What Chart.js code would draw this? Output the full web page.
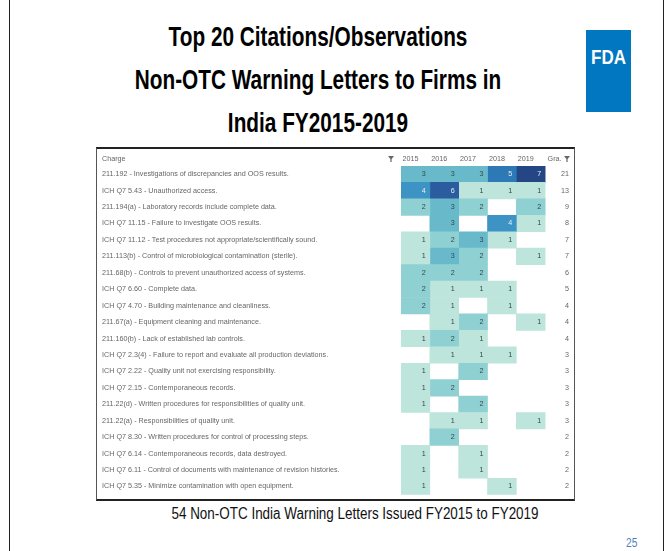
<!DOCTYPE html>
<html>
<head>
<meta charset="utf-8">
<title>Top 20 Citations/Observations</title>
<script src="https://cdn.jsdelivr.net/npm/chart.js@4.4.1/dist/chart.umd.min.js"></script>
<style>
  body {
    margin: 0;
    width: 672px;
    height: 551px;
    background: #fff;
    overflow: hidden;
    position: relative;
    font-family: "Liberation Sans", Arial, sans-serif;
  }
  #frame {
    position: absolute;
    left: 9px;
    top: -3px;
    width: 653px;
    height: 600px;
    border: 1px solid #222;
  }
  /* narrow bold face for the slide heading */
  .title {
    position: absolute;
    left: 0;
    width: 636px;
    text-align: center;
    font-weight: bold;
    font-size: 27px;
    line-height: 30px;
    color: #000;
    transform: scaleX(0.77);
  }
  #logo {
    position: absolute;
    left: 586px;
    top: 30px;
    width: 45px;
    height: 82px;
    background: #0077c0;
    color: #fff;
    font-weight: bold;
    font-size: 20px;
    text-align: center;
    line-height: 22px;
  }
  #logo span { position: absolute; left: 0; right: 0; top: 16px; transform: scaleX(0.85); }
  #table {
    position: absolute;
    left: 96px;
    top: 147px;
    width: 477px;
    height: 350px;
    border: 1px solid #555;
    border-top: 2px solid #222;
    border-bottom: 2px solid #222;
  }
  #table canvas { display: block; filter: blur(0.7px); }
  #caption {
    position: absolute;
    left: 0;
    width: 710px;
    top: 504px;
    text-align: center;
    font-size: 16px;
    line-height: 20px;
    color: #111;
    transform: scaleX(0.84);
  }
  #page {
    position: absolute;
    left: 625px;
    top: 536px;
    font-size: 12px;
    color: #4f81bd;
    transform: scaleX(0.85);
  }
</style>
</head>
<body>
<div id="frame"></div>
<div class="title" style="top:22px">Top 20 Citations/Observations</div>
<div class="title" style="top:65px">Non-OTC Warning Letters to Firms in</div>
<div class="title" style="top:108px">India FY2015-2019</div>
<div id="logo"><span>FDA</span></div>
<div id="table"><canvas id="heat" width="477" height="350"></canvas></div>
<div id="caption">54 Non-OTC India Warning Letters Issued FY2015 to FY2019</div>
<div id="page">25</div>

<script>
const charges = [
  "211.192 - Investigations of discrepancies and OOS results.",
  "ICH Q7 5.43 - Unauthorized access.",
  "211.194(a) - Laboratory records include complete data.",
  "ICH Q7 11.15 - Failure to investigate OOS results.",
  "ICH Q7 11.12 - Test procedures not appropriate/scientifically sound.",
  "211.113(b) - Control of microbiological contamination (sterile).",
  "211.68(b) - Controls to prevent unauthorized access of systems.",
  "ICH Q7 6.60 - Complete data.",
  "ICH Q7 4.70 - Building maintenance and cleanliness.",
  "211.67(a) - Equipment cleaning and maintenance.",
  "211.160(b) - Lack of established lab controls.",
  "ICH Q7 2.3(4) - Failure to report and evaluate all production deviations.",
  "ICH Q7 2.22 - Quality unit not exercising responsibility.",
  "ICH Q7 2.15 - Contemporaneous records.",
  "211.22(d) - Written procedures for responsibilities of quality unit.",
  "211.22(a) - Responsibilities of quality unit.",
  "ICH Q7 8.30 - Written procedures for control of processing steps.",
  "ICH Q7 6.14 - Contemporaneous records, data destroyed.",
  "ICH Q7 6.11 - Control of documents with maintenance of revision histories.",
  "ICH Q7 5.35 - Minimize contamination with open equipment."
];

const years = ["2015", "2016", "2017", "2018", "2019"];
const fy2015 = [3, 4, 2, 0, 1, 1, 2, 2, 2, 0, 1, 0, 1, 1, 1, 0, 0, 1, 1, 1];
const fy2016 = [3, 6, 3, 3, 2, 3, 2, 1, 1, 1, 2, 1, 0, 2, 0, 1, 2, 0, 0, 0];
const fy2017 = [3, 1, 2, 0, 3, 2, 2, 1, 0, 2, 1, 1, 2, 0, 2, 1, 0, 1, 1, 0];
const fy2018 = [5, 1, 0, 4, 1, 0, 0, 1, 1, 0, 0, 1, 0, 0, 0, 0, 0, 0, 0, 1];
const fy2019 = [7, 1, 2, 1, 0, 1, 0, 0, 0, 1, 0, 0, 0, 0, 0, 1, 0, 0, 0, 0];
const grandTotal = [21, 13, 9, 8, 7, 7, 6, 5, 4, 4, 4, 3, 3, 3, 3, 3, 2, 2, 2, 2];

const headers = years.concat(["Gra."]);

// fill colour by count, light mint -> navy
const shades = ["#ffffff", "#bde5dc", "#8fd0d3", "#68bacb", "#3d93c3", "#2d79b5", "#2b5c9f", "#244684"];

const yearValues = [fy2015, fy2016, fy2017, fy2018, fy2019];

const datasets = yearValues.map((vals, j) => ({
  label: years[j],
  values: vals,
  data: vals.map(v => v ? [j, j + 1] : null),
  backgroundColor: ctx => shades[vals[ctx.dataIndex]] || "#fff",
  borderWidth: 0,
  borderSkipped: false,
  barPercentage: 1,
  categoryPercentage: 1,
  grouped: false
}));

const tableFont = '7.2px "Liberation Sans"';

// little funnel mark like the pivot filter buttons
function funnel(ctx, x, y) {
  ctx.beginPath();
  ctx.moveTo(x - 3, y - 3);
  ctx.lineTo(x + 3, y - 3);
  ctx.lineTo(x + 0.6, y);
  ctx.lineTo(x + 0.6, y + 3);
  ctx.lineTo(x - 0.6, y + 3);
  ctx.lineTo(x - 0.6, y);
  ctx.closePath();
  ctx.fill();
}

const cellText = {
  id: "cellText",
  afterDatasetsDraw(chart) {
    const ctx = chart.ctx;
    const xs = chart.scales.x, ys = chart.scales.y;
    ctx.save();
    ctx.font = tableFont;
    ctx.textAlign = "right";
    ctx.textBaseline = "middle";
    chart.data.datasets.forEach((ds, j) => {
      ds.values.forEach((v, i) => {
        if (!v) return;
        ctx.fillStyle = v >= 4 ? "#e6eef6" : "#34484a";
        ctx.fillText(v, xs.getPixelForValue(j + 1) - 4, ys.getPixelForValue(i));
      });
    });

    ctx.fillStyle = "#666";
    grandTotal.forEach((t, i) => {
      ctx.fillText(t, xs.getPixelForValue(6) - 5, ys.getPixelForValue(i));
    });

    // header row: Charge, years, grand total
    const hy = 10;
    ctx.textAlign = "center";
    headers.forEach((h, i) => {
      ctx.fillText(h, xs.getPixelForValue(i + 0.5) - 5, hy);
    });
    ctx.textAlign = "left";
    ctx.fillText("Charge", 5, hy);
    funnel(ctx, 294, hy);
    funnel(ctx, 470, hy);
    ctx.restore();
  }
};

new Chart(document.getElementById("heat"), {
  type: "bar",
  data: { labels: charges, datasets: datasets },
  options: {
    indexAxis: "y",
    responsive: false,
    animation: false,
    devicePixelRatio: 1,
    layout: { padding: { left: 5, right: 0, top: 17, bottom: 0 } },
    plugins: {
      legend: { display: false },
      tooltip: { enabled: false }
    },
    scales: {
      x: {
        type: "linear",
        display: false,
        min: 0,
        max: 6
      },
      y: {
        type: "category",
        position: "left",
        grid: { display: false },
        border: { display: false },
        afterFit: scale => { scale.width = 299; },
        ticks: {
          crossAlign: "far",
          autoSkip: false,
          padding: 0,
          color: "#666",
          font: { family: "Liberation Sans", size: 7.2 }
        }
      }
    }
  },
  plugins: [cellText]
});
</script>
</body>
</html>
